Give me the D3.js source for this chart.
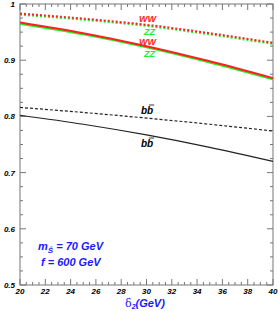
<!DOCTYPE html>
<html>
<head>
<meta charset="utf-8">
<script src="https://cdn.jsdelivr.net/npm/d3@7"></script>
<style>
  body { margin: 0; background: #fff; }
  text { font-family: "Liberation Sans", Arial, sans-serif; font-weight: bold; font-style: italic; }
</style>
</head>
<body>
<div id="chart"></div>
<script>
// data
const delta2 = [20, 25, 30, 35, 40];
const wwDotted = [0.983, 0.974, 0.963, 0.948, 0.931];
const zzDotted = [0.981, 0.972, 0.961, 0.946, 0.929];
const wwSolid = [0.967, 0.948, 0.925, 0.898, 0.868];
const zzSolid = [0.965, 0.946, 0.923, 0.896, 0.866];
const bbDashed = [0.816, 0.807, 0.797, 0.786, 0.774];
const bbSolid = [0.802, 0.786, 0.767, 0.745, 0.720];
const xTicks = [20, 22, 24, 26, 28, 30, 32, 34, 36, 38, 40];
const yTicks = [0.5, 0.6, 0.7, 0.8, 0.9, 1];

const width = 278, height = 311;
const mLeft = 20, mRight = 273, mTop = 4, mBottom = 285;

const svg = d3.select("#chart").append("svg")
  .attr("width", width)
  .attr("height", height);

const x = d3.scaleLinear().domain([20, 40]).range([mLeft, mRight]);
const y = d3.scaleLinear().domain([0.5, 1]).range([mBottom, mTop]);

const axisColor = "#777";

// frame
svg.append("rect")
  .attr("x", mLeft).attr("y", mTop)
  .attr("width", mRight - mLeft).attr("height", mBottom - mTop)
  .attr("fill", "none").attr("stroke", axisColor).attr("stroke-width", 1);

// minor/major ticks, all pointing inward
const xMinor = d3.range(20, 40.01, 0.5);
const yMinor = d3.range(0.5, 1.001, 0.025);

function tickLines(vals, isMajor, horizontal) {
  vals.forEach(v => {
    const major = isMajor(v);
    const len = major ? 6 : 3;
    if (horizontal) {
      const px = x(v);
      svg.append("line").attr("x1", px).attr("x2", px)
        .attr("y1", mBottom).attr("y2", mBottom - len).attr("stroke", axisColor);
      svg.append("line").attr("x1", px).attr("x2", px)
        .attr("y1", mTop).attr("y2", mTop + len).attr("stroke", axisColor);
    } else {
      const py = y(v);
      svg.append("line").attr("x1", mLeft).attr("x2", mLeft + len)
        .attr("y1", py).attr("y2", py).attr("stroke", axisColor);
      svg.append("line").attr("x1", mRight).attr("x2", mRight - len)
        .attr("y1", py).attr("y2", py).attr("stroke", axisColor);
    }
  });
}
tickLines(xMinor, v => Math.abs(v / 2 - Math.round(v / 2)) < 1e-6, true);
tickLines(yMinor, v => Math.abs(v * 10 - Math.round(v * 10)) < 1e-6, false);

// tick labels
svg.selectAll("text.xt").data(xTicks).enter().append("text")
  .attr("class", "xt")
  .attr("x", d => x(d)).attr("y", 294)
  .attr("text-anchor", "middle")
  .attr("font-size", 8)
  .text(d => d);

svg.selectAll("text.yt").data(yTicks).enter().append("text")
  .attr("class", "yt")
  .attr("x", 15).attr("y", d => y(d) + 3)
  .attr("text-anchor", "end")
  .attr("font-size", 8)
  .text(d => d === 1 ? "1" : d.toFixed(1));

// curves
const line = d3.line().curve(d3.curveMonotoneX);
function drawCurve(vals, color, dash, w) {
  svg.append("path")
    .attr("d", line(delta2.map((d, i) => [x(d), y(vals[i])])))
    .attr("fill", "none")
    .attr("stroke", color)
    .attr("stroke-width", w)
    .attr("stroke-dasharray", dash);
}
drawCurve(zzDotted, "#22ee22", "2,2", 2);
drawCurve(wwDotted, "#ff2020", "2,2", 2);
drawCurve(zzSolid, "#22ee22", null, 2);
drawCurve(wwSolid, "#ff2020", null, 2);
drawCurve(bbDashed, "#222", "3,2", 1.2);
drawCurve(bbSolid, "#222", null, 1.2);

// curve labels
function label(tx, ty, txt, color) {
  return svg.append("text").attr("x", tx).attr("y", ty)
    .attr("font-size", 9).attr("fill", color).text(txt);
}
label(139, 22, "WW", "#ff2020");
label(144, 35, "ZZ", "#22ee22");
label(139, 45, "WW", "#ff2020");
label(144, 57, "ZZ", "#22ee22");

// b b-bar: draw the bar as a short line over the second b
function bbLabel(ty) {
  const t = svg.append("text").attr("x", 141).attr("y", ty)
    .attr("font-size", 10).attr("fill", "#000").text("bb");
  const w = t.node().getComputedTextLength();
  svg.append("line")
    .attr("x1", 141 + w / 2 + 2).attr("x2", 141 + w + 1)
    .attr("y1", ty - 9).attr("y2", ty - 9)
    .attr("stroke", "#000").attr("stroke-width", 0.8);
}
bbLabel(114);
bbLabel(147);

// parameter labels
const blue = "#1a1aff";
const m = svg.append("text").attr("x", 38).attr("y", 250)
  .attr("font-size", 11).attr("fill", blue);
m.append("tspan").text("m");
m.append("tspan").attr("dy", 3).attr("font-size", 8).text("S\u0302");
m.append("tspan").attr("dy", -3).text(" = 70 GeV");

svg.append("text").attr("x", 41).attr("y", 266)
  .attr("font-size", 11).attr("fill", blue).text("f = 600 GeV");

// x-axis title
const xt = svg.append("text").attr("x", 125).attr("y", 307)
  .attr("font-size", 11).attr("fill", blue).style("font-style", "normal");
xt.append("tspan").attr("font-family", "DejaVu Serif").style("font-weight", "normal").text("\u03b4");
xt.append("tspan").attr("dy", 2).attr("font-size", 7).style("font-style", "italic").text("2");
xt.append("tspan").attr("dy", -2).style("font-style", "italic").text("(GeV)");
</script>
</body>
</html>
